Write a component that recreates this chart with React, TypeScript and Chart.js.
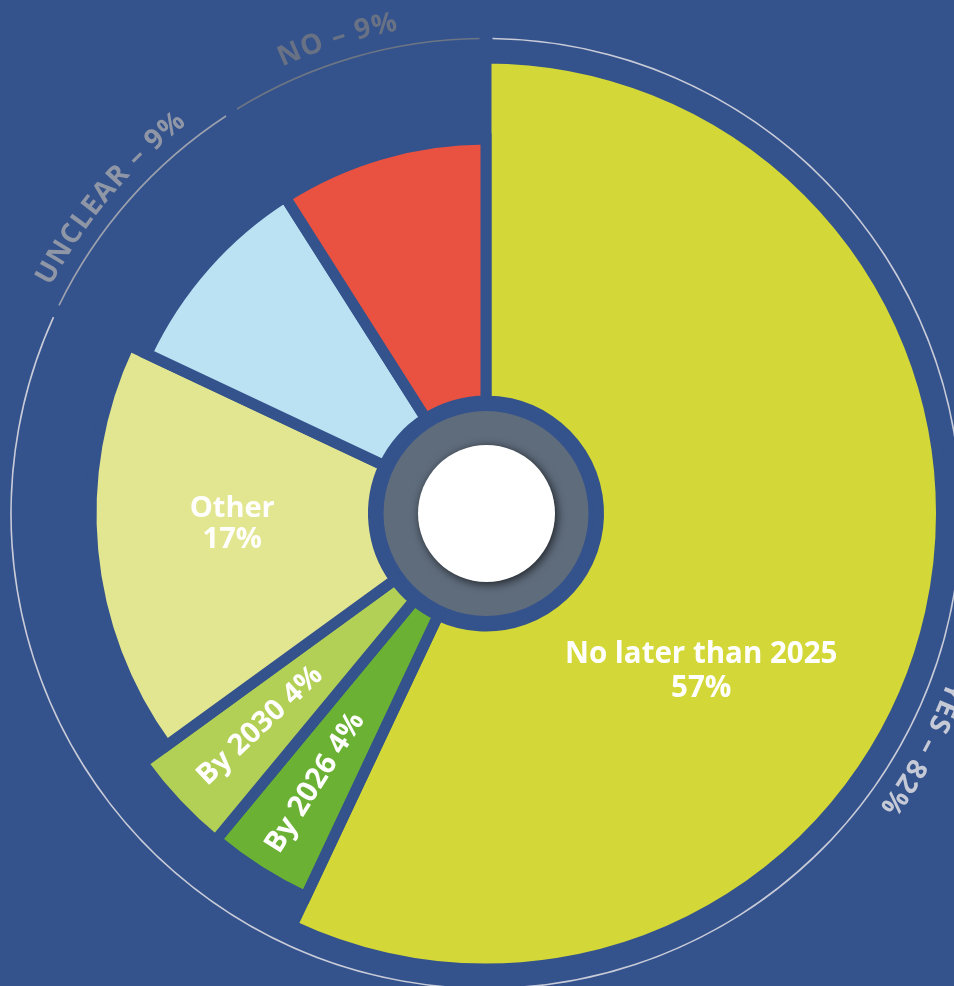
import React, { useEffect, useRef } from 'react';
import { Chart, registerables } from 'chart.js';

Chart.register(...registerables);

// ---------- DATA ----------
const categories = ['No later than 2025', 'By 2026', 'By 2030', 'Other', 'Unclear', 'No'];
const values = [57, 4, 4, 17, 9, 9];
const groupNames = ['YES', 'UNCLEAR', 'NO'];
const groupMembers = [[0, 1, 2, 3], [4], [5]];

// ---------- STYLE ----------
const BG = '#34528C';
const sliceColors = ['#D3D838', '#6BB234', '#B2CF56', '#E2E690', '#BAE2F2', '#E95240'];
const sliceVisibleOuter = [450, 418, 419, 389.5, 369.5, 369];
const SLICE_INNER = 118;
const GAP = 11;
const ringColors = ['#C9CCD8', '#9CA1AE', '#6C7584'];
const ringTextColors = ['#C6CAD7', '#8F96A6', '#687284'];
const RING_R = 475;
const RING_W = 1.6;
const RING_GAP_PX = 13;
const ringLabelAngles = [118.3, 310.0, 342.6];
const RING_LABEL_R = 491;
const RING_FONT = 28;
const RING_SPACING = 1.5;
const FONT = '"Open Sans", "DejaVu Sans", sans-serif';

// label placement: mode, angle (deg clockwise from top), radius, font size, line height
const labelStyles = [
  { mode: 'stack', angle: 126.3, r: 267, size: 29.5, lh: 34 },
  { mode: 'radial', angle: 212.4, r: 319, size: 29, lh: 0 },
  { mode: 'radial', angle: 226.8, r: 310, size: 29, lh: 0 },
  { mode: 'stack', angle: 267.6, r: 254, size: 29, lh: 31 },
  { mode: 'none', angle: 0, r: 0, size: 0, lh: 0 },
  { mode: 'none', angle: 0, r: 0, size: 0, lh: 0 },
];

const groupValues = groupMembers.map((m) => m.reduce((s, i) => s + values[i], 0));

function sliceLabelLines(i: number): string[] {
  if (labelStyles[i].mode === 'stack') return [categories[i], `${values[i]}%`];
  if (labelStyles[i].mode === 'radial') return [`${categories[i]} ${values[i]}%`];
  return [];
}

function drawCurvedText(ctx: CanvasRenderingContext2D, text: string, cx: number, cy: number, r: number, centerDeg: number, spacing: number) {
  const chars = [...text];
  const widths = chars.map((c) => ctx.measureText(c).width);
  const rAdv = r + 10;
  const total = widths.reduce((a, b) => a + b, 0) + spacing * (chars.length - 1);
  let a = (centerDeg * Math.PI) / 180 - total / 2 / rAdv;
  chars.forEach((ch, i) => {
    const w = widths[i];
    const ang = a + w / 2 / rAdv;
    ctx.save();
    ctx.translate(cx + r * Math.sin(ang), cy - r * Math.cos(ang));
    ctx.rotate(ang);
    ctx.fillText(ch, 0, 0);
    ctx.restore();
    a += (w + spacing) / rAdv;
  });
}

const shapePlugin = {
  id: 'shapePlugin',
  afterDatasetsUpdate(chart: any) {
    const ringMeta = chart.getDatasetMeta(0);
    ringMeta.data.forEach((arc: any) => {
      arc.innerRadius = RING_R - RING_W / 2;
      arc.outerRadius = RING_R + RING_W / 2;
      const g = RING_GAP_PX / RING_R;
      arc.startAngle += g / 2;
      arc.endAngle -= g / 2;
      arc.circumference = arc.endAngle - arc.startAngle;
    });
    const sliceMeta = chart.getDatasetMeta(1);
    sliceMeta.data.forEach((arc: any, i: number) => {
      arc.innerRadius = SLICE_INNER - GAP / 2;
      arc.outerRadius = sliceVisibleOuter[i] + GAP / 2;
    });
  },
  afterDatasetsDraw(chart: any) {
    const ctx: CanvasRenderingContext2D = chart.ctx;
    const arc0 = chart.getDatasetMeta(1).data[0];
    const cx = arc0.x;
    const cy = arc0.y;

    // center hub
    ctx.save();
    ctx.beginPath();
    ctx.arc(cx, cy, 102.5, 0, Math.PI * 2);
    ctx.fillStyle = '#5F6C7C';
    ctx.fill();
    ctx.shadowColor = 'rgba(0,0,0,0.7)';
    ctx.shadowBlur = 10;
    ctx.shadowOffsetX = 2;
    ctx.shadowOffsetY = 2;
    ctx.beginPath();
    ctx.arc(cx + 0.5, cy, 68.5, 0, Math.PI * 2);
    ctx.fillStyle = '#FFFFFF';
    ctx.fill();
    ctx.restore();

    // ring labels
    ctx.save();
    ctx.font = `bold ${RING_FONT}px ${FONT}`;
    ctx.textAlign = 'center';
    ctx.textBaseline = 'alphabetic';
    groupNames.forEach((name, gi) => {
      ctx.fillStyle = ringTextColors[gi];
      drawCurvedText(ctx, `${name} – ${groupValues[gi]}%`, cx, cy, RING_LABEL_R, ringLabelAngles[gi], RING_SPACING);
    });
    ctx.restore();

    // slice labels
    ctx.save();
    ctx.fillStyle = '#FFFFFF';
    ctx.textAlign = 'center';
    ctx.textBaseline = 'middle';
    labelStyles.forEach((st, i) => {
      const lines = sliceLabelLines(i);
      if (!lines.length) return;
      const th = (st.angle * Math.PI) / 180;
      const x = cx + st.r * Math.sin(th);
      const y = cy - st.r * Math.cos(th);
      ctx.font = `bold ${st.size}px ${FONT}`;
      if (st.mode === 'radial') {
        ctx.save();
        ctx.translate(x, y);
        ctx.rotate(Math.atan2(Math.cos(th), -Math.sin(th)));
        ctx.fillText(lines[0], 0, 0);
        ctx.restore();
      } else {
        const n = lines.length;
        lines.forEach((ln, k) => {
          ctx.fillText(ln, x, y + (k - (n - 1) / 2) * st.lh);
        });
      }
    });
    ctx.restore();
  },
};

export default function App() {
  const ref = useRef<HTMLCanvasElement | null>(null);
  useEffect(() => {
    if (!ref.current) return;
    const chart = new Chart(ref.current, {
      type: 'doughnut',
      data: {
        labels: categories,
        datasets: [
          {
            label: 'Groups',
            data: groupValues,
            backgroundColor: ringColors,
            borderWidth: 0,
          },
          {
            label: 'Answers',
            data: values,
            backgroundColor: sliceColors,
            borderColor: BG,
            borderWidth: GAP,
            borderJoinStyle: 'miter',
          } as any,
        ],
      },
      options: {
        animation: false,
        responsive: false,
        events: [],
        layout: { padding: 0 },
        plugins: {
          legend: { display: false },
          tooltip: { enabled: false },
          title: { display: false },
        },
      },
      plugins: [shapePlugin],
    });
    return () => chart.destroy();
  }, []);

  return (
    <div
      style={{
        position: 'fixed',
        left: 0,
        top: 0,
        width: 954,
        height: 986,
        overflow: 'hidden',
        background: BG,
      }}
    >
      <canvas
        ref={ref}
        width={972}
        height={1027}
        style={{ position: 'absolute', left: 0, top: 0, display: 'block', width: 972, height: 1027 }}
      />
    </div>
  );
}
